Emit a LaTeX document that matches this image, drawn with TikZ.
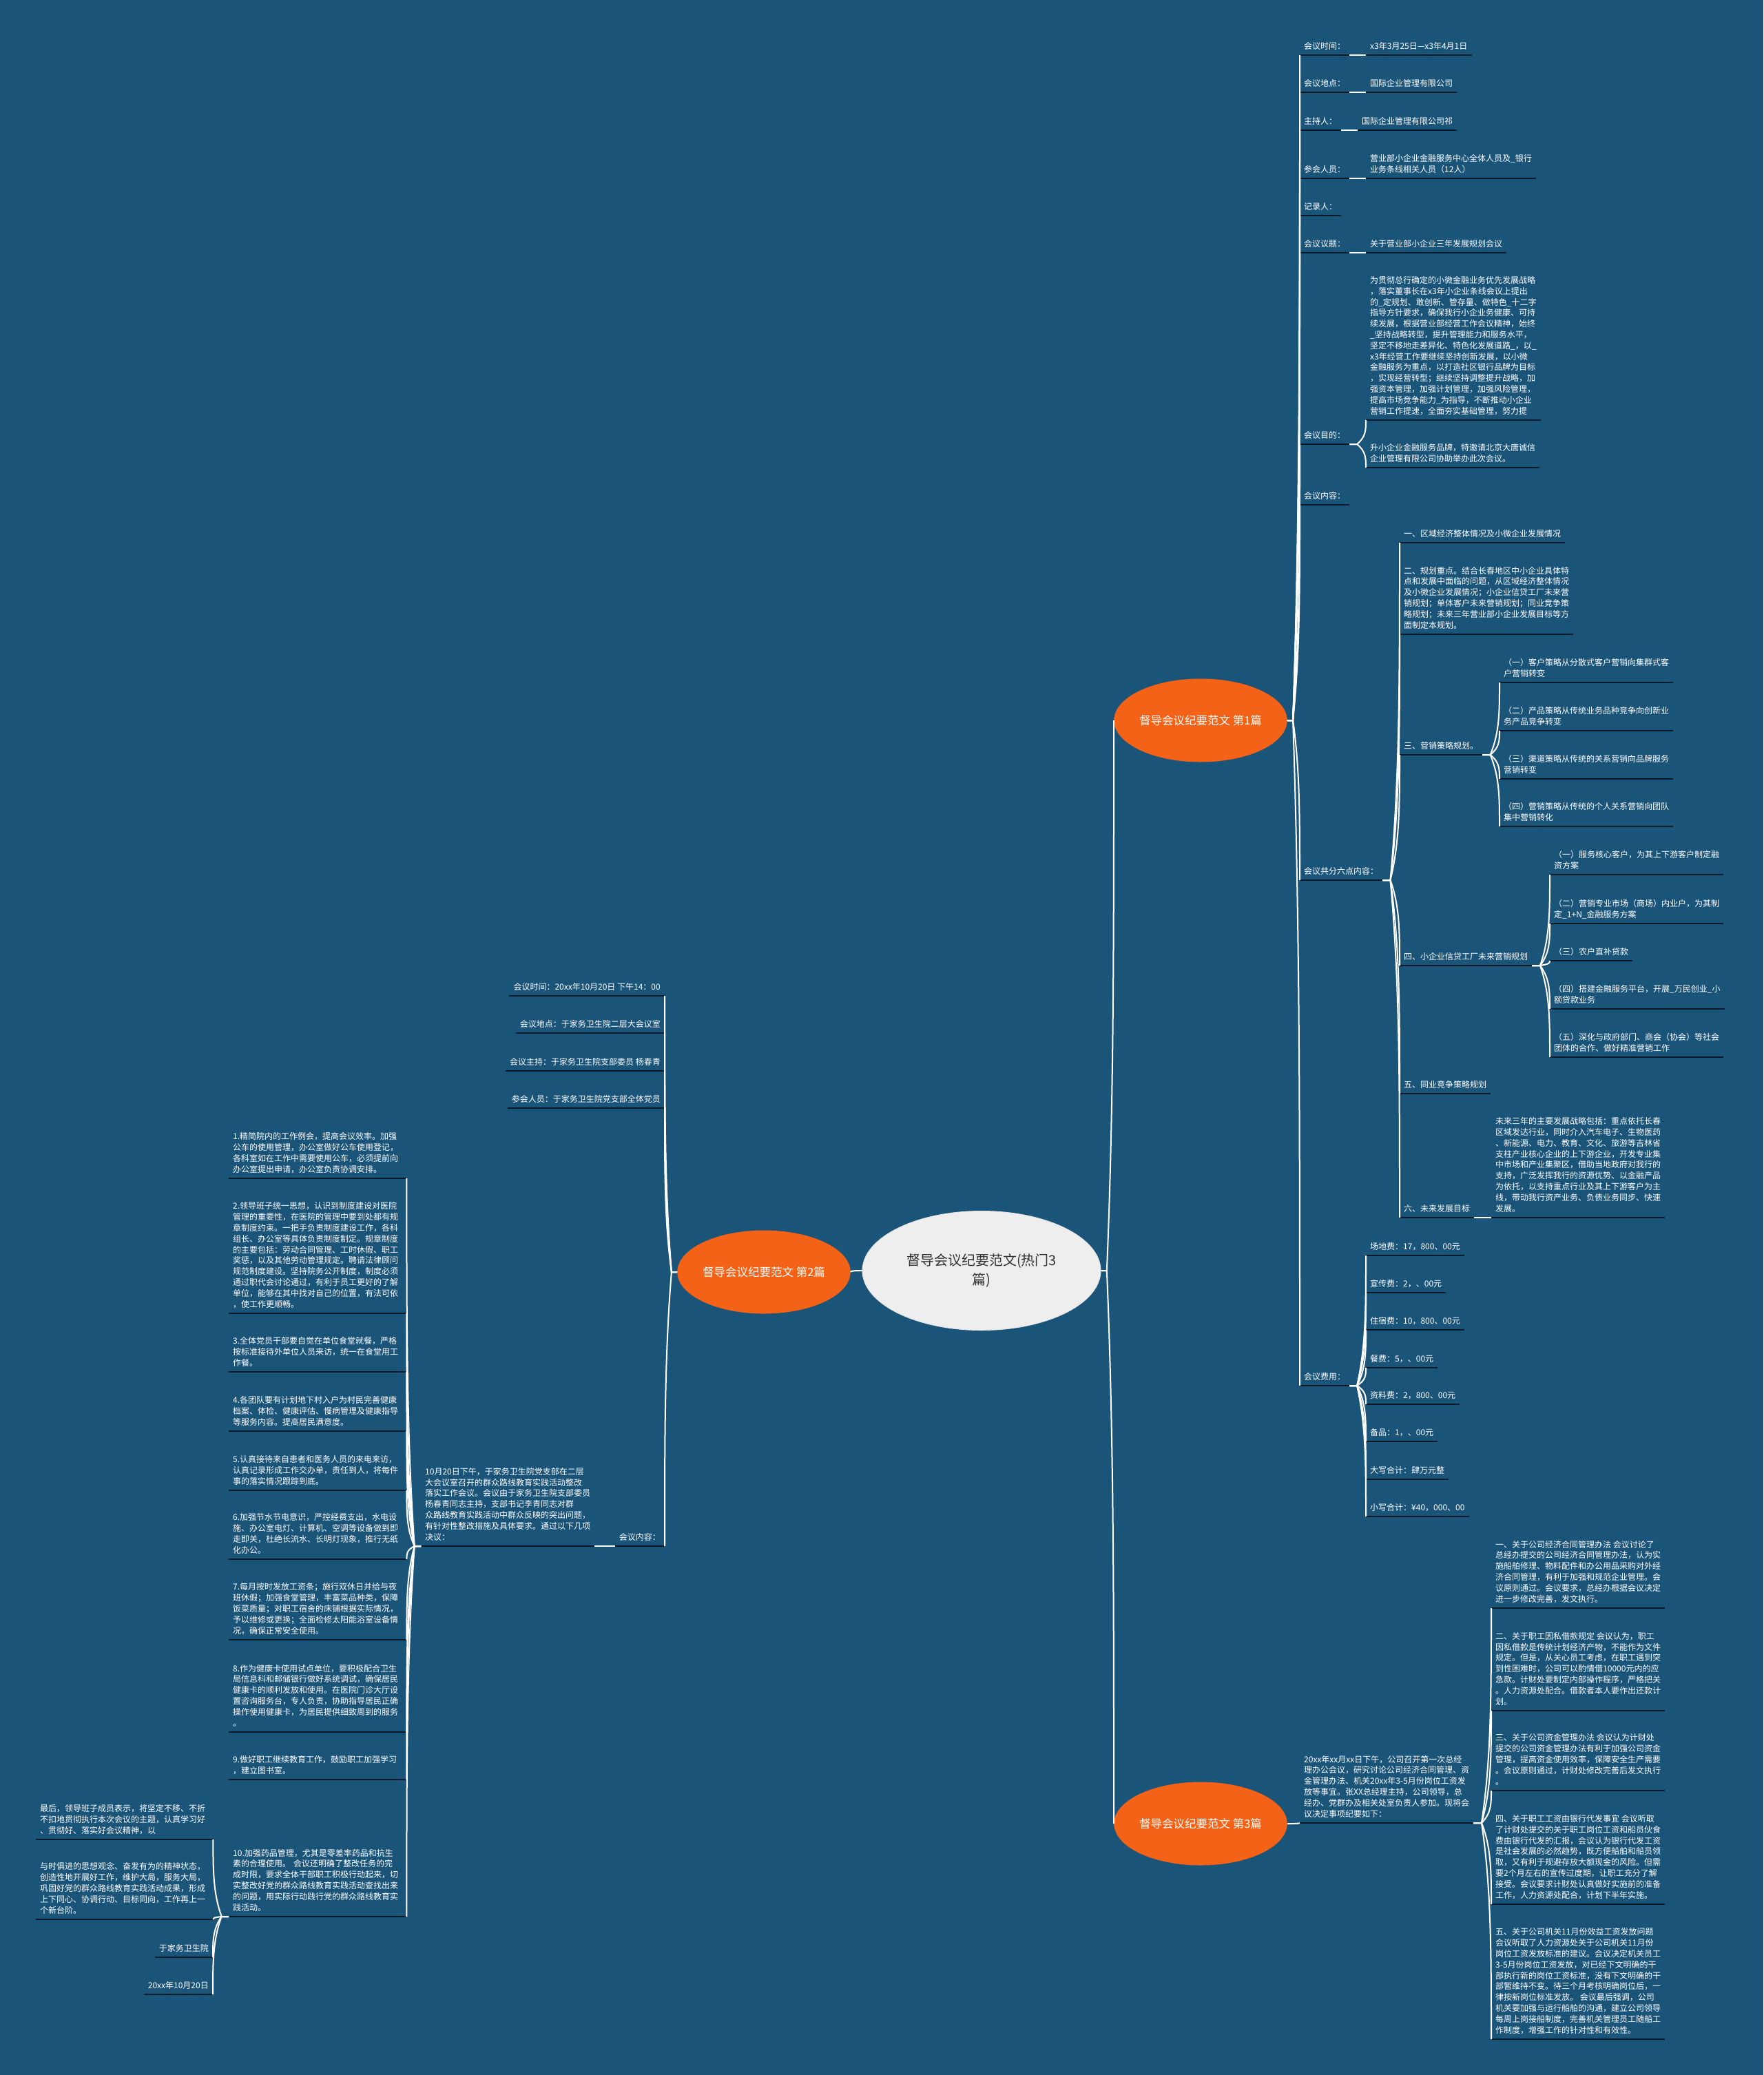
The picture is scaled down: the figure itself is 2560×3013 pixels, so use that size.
\documentclass[tikz,border=0pt]{standalone}
\usepackage{fontspec}
\newfontfamily\cjk{Noto Sans CJK SC}
\usetikzlibrary{shapes.geometric,calc}
\definecolor{bgc}{RGB}{27,84,121}
\definecolor{ulc}{RGB}{10,26,40}
\definecolor{orc}{RGB}{243,98,22}
\definecolor{rootc}{RGB}{238,238,238}
\definecolor{roottext}{RGB}{51,51,51}
\begin{document}
\begin{tikzpicture}[x=1pt,y=-1pt,
  ul/.style={draw=ulc, line width=2.6pt},
  tx/.style={font=\cjk\fontsize{12}{15.8}\selectfont, text=white, inner xsep=6pt, inner ysep=4pt, align=left,
    execute at end node=\strut,
    append after command={(\tikzlastnode.south west) edge[ul] (\tikzlastnode.south east)}},
  R/.style={tx, anchor=south west},
  L/.style={tx, anchor=south east},
  Rw/.style={R, text width=246pt},
  conn/.style={draw=white, line width=2pt, to path={let \p1=(\tikztostart), \p2=(\tikztotarget) in
     -- ({\x1+0.45*(\x2-\x1)},{\y1}) .. controls ({\x2},{\y1+0.3*(\y2-\y1)}) and ({\x2},{0.4*\y1+0.6*\y2}) .. (\tikztotarget)}},
  rootnode/.style={ellipse, fill=rootc, draw=white!80!gray, line width=1pt, minimum width=346pt, minimum height=173pt, inner sep=0pt,
     align=center, text=roottext, font=\cjk\fontsize{20}{28}\selectfont},
  lvl/.style={ellipse, fill=orc, minimum width=240pt, minimum height=121pt, inner sep=0pt, text=white,
     font=\cjk\fontsize{16.5}{20}\selectfont}
]
\useasboundingbox (0,0) rectangle (2560,3013);
\fill[bgc] (0,0) rectangle (2560,3013);

% central and level-1 nodes
\node[rootnode] (root) at (1425,1845) {督导会议纪要范文(热门3\\篇)};
\node[lvl] (n1) at (1743,1046) {督导会议纪要范文 第1篇};
\node[lvl] (n2) at (1109,1847) {督导会议纪要范文 第2篇};
\node[lvl] (n3) at (1743,2648) {督导会议纪要范文 第3篇};

% ---------- 第1篇 ----------
\node[R] (a1) at (1887,80) {会议时间：};
\node[R] (a1v) at (1983,80) {x3年3月25日—x3年4月1日};
\node[R] (a2) at (1887,134) {会议地点：};
\node[R] (a2v) at (1983,134) {国际企业管理有限公司};
\node[R] (a3) at (1887,189) {主持人：};
\node[R] (a3v) at (1971,189) {国际企业管理有限公司祁};
\node[R] (a4) at (1887,259) {参会人员：};
\node[R] (a4v) at (1983,259) {营业部小企业金融服务中心全体人员及\_银行\\业务条线相关人员（12人）};
\node[R] (a5) at (1887,313) {记录人：};
\node[R] (a6) at (1887,367) {会议议题：};
\node[R] (a6v) at (1983,367) {关于营业部小企业三年发展规划会议};
\node[R] (a7) at (1887,645) {会议目的：};
\node[R] (a7p) at (1983,610) {为贯彻总行确定的小微金融业务优先发展战略\\，落实董事长在x3年小企业条线会议上提出\\的\_定规划、敢创新、管存量、做特色\_十二字\\指导方针要求，确保我行小企业务健康、可持\\续发展，根据营业部经营工作会议精神，始终\\\_坚持战略转型，提升管理能力和服务水平，\\坚定不移地走差异化、特色化发展道路\_，以\_\\x3年经营工作要继续坚持创新发展，以小微\\金融服务为重点，以打造社区银行品牌为目标\\，实现经营转型；继续坚持调整提升战略，加\\强资本管理，加强计划管理，加强风险管理，\\提高市场竞争能力\_为指导，不断推动小企业\\营销工作提速，全面夯实基础管理，努力提};
\node[R] (a7q) at (1983,679) {升小企业金融服务品牌，特邀请北京大唐诚信\\企业管理有限公司协助举办此次会议。};
\node[R] (a8) at (1887,733) {会议内容：};
\node[R] (a9) at (1887,1278) {会议共分六点内容：};
\node[R] (b1) at (2032,788) {一、区域经济整体情况及小微企业发展情况};
\node[R] (b2) at (2032,921) {二、规划重点。结合长春地区中小企业具体特\\点和发展中面临的问题，从区域经济整体情况\\及小微企业发展情况；小企业信贷工厂未来营\\销规划；单体客户未来营销规划；同业竞争策\\略规划；未来三年营业部小企业发展目标等方\\面制定本规划。};
\node[R] (b3) at (2032,1096) {三、营销策略规划。};
\node[R] (c1) at (2177,991) {（一）客户策略从分散式客户营销向集群式客\\户营销转变};
\node[R] (c2) at (2177,1061) {（二）产品策略从传统业务品种竞争向创新业\\务产品竞争转变};
\node[R] (c3) at (2177,1131) {（三）渠道策略从传统的关系营销向品牌服务\\营销转变};
\node[R] (c4) at (2177,1200) {（四）营销策略从传统的个人关系营销向团队\\集中营销转化};
\node[R] (b4) at (2032,1402) {四、小企业信贷工厂未来营销规划};
\node[R] (d1) at (2250,1270) {（一）服务核心客户，为其上下游客户制定融\\资方案};
\node[R] (d2) at (2250,1341) {（二）营销专业市场（商场）内业户，为其制\\定\_1+N\_金融服务方案};
\node[R] (d3) at (2250,1395) {（三）农户直补贷款};
\node[R] (d4) at (2250,1465) {（四）搭建金融服务平台，开展\_万民创业\_小\\额贷款业务};
\node[R] (d5) at (2250,1535) {（五）深化与政府部门、商会（协会）等社会\\团体的合作、做好精准营销工作};
\node[R] (b5) at (2032,1588) {五、同业竞争策略规划};
\node[R] (b6) at (2032,1768) {六、未来发展目标};
\node[R] (b6v) at (2165,1768) {未来三年的主要发展战略包括：重点依托长春\\区域发达行业，同时介入汽车电子、生物医药\\、新能源、电力、教育、文化、旅游等吉林省\\支柱产业核心企业的上下游企业，开发专业集\\中市场和产业集聚区，借助当地政府对我行的\\支持，广泛发挥我行的资源优势、以金融产品\\为依托，以支持重点行业及其上下游客户为主\\线，带动我行资产业务、负债业务同步、快速\\发展。};
\node[R] (a10) at (1887,2012) {会议费用：};
\node[R] (e1) at (1983,1823) {场地费：17，800、00元};
\node[R] (e2) at (1983,1877) {宣传费：2，、00元};
\node[R] (e3) at (1983,1931) {住宿费：10，800、00元};
\node[R] (e4) at (1983,1986) {餐费：5，、00元};
\node[R] (e5) at (1983,2039) {资料费：2，800、00元};
\node[R] (e6) at (1983,2093) {备品：1，、00元};
\node[R] (e7) at (1983,2148) {大写合计：肆万元整};
\node[R] (e8) at (1983,2202) {小写合计：¥40，000、00};

% ---------- 第3篇 ----------
\node[R] (f0) at (1887,2647) {20xx年xx月xx日下午，公司召开第一次总经\\理办公会议，研究讨论公司经济合同管理、资\\金管理办法、机关20xx年3-5月份岗位工资发\\放等事宜。张XX总经理主持，公司领导，总\\经办、党群办及相关处室负责人参加。现将会\\议决定事项纪要如下：};
\node[R] (f1) at (2165,2335) {一、关于公司经济合同管理办法 会议讨论了\\总经办提交的公司经济合同管理办法，认为实\\施船舶修理、物料配件和办公用品采购对外经\\济合同管理，有利于加强和规范企业管理。会\\议原则通过。会议要求，总经办根据会议决定\\进一步修改完善，发文执行。};
\node[R] (f2) at (2165,2484) {二、关于职工因私借款规定 会议认为，职工\\因私借款是传统计划经济产物，不能作为文件\\规定。但是，从关心员工考虑，在职工遇到突\\到性困难时，公司可以酌情借10000元内的应\\急款。计财处要制定内部操作程序，严格把关\\。人力资源处配合。借款者本人要作出还款计\\划。};
\node[R] (f3) at (2165,2600) {三、关于公司资金管理办法 会议认为计财处\\提交的公司资金管理办法有利于加强公司资金\\管理，提高资金使用效率，保障安全生产需要\\。会议原则通过，计财处修改完善后发文执行\\。};
\node[R] (f4) at (2165,2765) {四、关于职工工资由银行代发事宜 会议听取\\了计财处提交的关于职工岗位工资和船员伙食\\费由银行代发的汇报，会议认为银行代发工资\\是社会发展的必然趋势，既方便船舶和船员领\\取，又有利于规避存放大额现金的风险。但需\\要2个月左右的宣传过度期，让职工充分了解\\接受。会议要求计财处认真做好实施前的准备\\工作，人力资源处配合，计划下半年实施。};
\node[R] (f5) at (2165,2961) {五、关于公司机关11月份效益工资发放问题\\会议听取了人力资源处关于公司机关11月份\\岗位工资发放标准的建议。会议决定机关员工\\3-5月份岗位工资发放，对已经下文明确的干\\部执行新的岗位工资标准，没有下文明确的干\\部暂维持不变。待三个月考核明确岗位后，一\\律按新岗位标准发放。 会议最后强调，公司\\机关要加强与运行船舶的沟通，建立公司领导\\每周上岗接船制度，完善机关管理员工随船工\\作制度，增强工作的针对性和有效性。};

% ---------- 第2篇 ----------
\node[L] (g1) at (965,1446) {会议时间：20xx年10月20日 下午14：00};
\node[L] (g2) at (965,1500) {会议地点：于家务卫生院二层大会议室};
\node[L] (g3) at (965,1555) {会议主持：于家务卫生院支部委员 杨春青};
\node[L] (g4) at (965,1609) {参会人员：于家务卫生院党支部全体党员};
\node[L] (g5) at (965,2245) {会议内容：};
\node[R] (h0) at (611,2245) {10月20日下午，于家务卫生院党支部在二层\\大会议室召开的群众路线教育实践活动整改\\落实工作会议。会议由于家务卫生院支部委员\\杨春青同志主持，支部书记李青同志对群\\众路线教育实践活动中群众反映的突出问题，\\有针对性整改措施及具体要求。通过以下几项\\决议：};
\node[Rw] (i1) at (332,1711) {1.精简院内的工作例会，提高会议效率。加强\\公车的使用管理，办公室做好公车使用登记，\\各科室如在工作中需要使用公车，必须提前向\\办公室提出申请，办公室负责协调安排。};
\node[Rw] (i2) at (332,1907) {2.领导班子统一思想，认识到制度建设对医院\\管理的重要性，在医院的管理中要到处都有规\\章制度约束。一把手负责制度建设工作，各科\\组长、办公室等具体负责制度制定。规章制度\\的主要包括：劳动合同管理、工时休假、职工\\奖惩，以及其他劳动管理规定。聘请法律顾问\\规范制度建设。坚持院务公开制度，制度必须\\通过职代会讨论通过，有利于员工更好的了解\\单位，能够在其中找对自己的位置，有法可依\\，使工作更顺畅。};
\node[Rw] (i3) at (332,1992) {3.全体党员干部要自觉在单位食堂就餐，严格\\按标准接待外单位人员来访，统一在食堂用工\\作餐。};
\node[Rw] (i4) at (332,2078) {4.各团队要有计划地下村入户为村民完善健康\\档案、体检、健康评估、慢病管理及健康指导\\等服务内容。提高居民满意度。};
\node[Rw] (i5) at (332,2164) {5.认真接待来自患者和医务人员的来电来访，\\认真记录形成工作交办单，责任到人，将每件\\事的落实情况跟踪到底。};
\node[Rw] (i6) at (332,2264) {6.加强节水节电意识，严控经费支出，水电设\\施、办公室电灯、计算机、空调等设备做到即\\走即关，杜绝长流水、长明灯现象，推行无纸\\化办公。};
\node[Rw] (i7) at (332,2381) {7.每月按时发放工资条；施行双休日并给与夜\\班休假；加强食堂管理，丰富菜品种类，保障\\饭菜质量；对职工宿舍的床铺根据实际情况，\\予以维修或更换；全面检修太阳能浴室设备情\\况，确保正常安全使用。};
\node[Rw] (i8) at (332,2515) {8.作为健康卡使用试点单位，要积极配合卫生\\局信息科和邮储银行做好系统调试，确保居民\\健康卡的顺利发放和使用。在医院门诊大厅设\\置咨询服务台，专人负责，协助指导居民正确\\操作使用健康卡，为居民提供细致周到的服务\\。};
\node[Rw] (i9) at (332,2584) {9.做好职工继续教育工作，鼓励职工加强学习\\，建立图书室。};
\node[Rw] (i10) at (332,2783) {10.加强药品管理，尤其是零差率药品和抗生\\素的合理使用。~会议还明确了整改任务的完\\成时限，要求全体干部职工积极行动起来，切\\实整改好党的群众路线教育实践活动查找出来\\的问题，用实际行动践行党的群众路线教育实\\践活动。};
\node[R, text width=245pt] (j1) at (52,2671) {最后，领导班子成员表示，将坚定不移、不折\\不扣地贯彻执行本次会议的主题，认真学习好\\、贯彻好、落实好会议精神，以};
\node[R, text width=245pt] (j2) at (52,2787) {与时俱进的思想观念、奋发有为的精神状态，\\创造性地开展好工作，维护大局，服务大局，\\巩固好党的群众路线教育实践活动成果，形成\\上下同心、协调行动、目标同向，工作再上一\\个新台阶。};
\node[L] (j3) at (309,2842) {于家务卫生院};
\node[L] (j4) at (309,2896) {20xx年10月20日};

% ---------- connectors ----------
\draw[conn] (root.east) to (n1.west);
\draw[conn] (root.east) to (n3.west);
\draw[conn] (root.west) to (n2.east);

\foreach \c in {a1,a2,a3,a4,a5,a6,a7,a8,a9,a10}
  \draw[conn] (n1.east) to (\c.south west);
\foreach \p/\c in {a1/a1v,a2/a2v,a3/a3v,a4/a4v,a6/a6v,a7/a7p,a7/a7q,
                   a9/b1,a9/b2,a9/b3,a9/b4,a9/b5,a9/b6,
                   b3/c1,b3/c2,b3/c3,b3/c4,
                   b4/d1,b4/d2,b4/d3,b4/d4,b4/d5,b6/b6v,
                   a10/e1,a10/e2,a10/e3,a10/e4,a10/e5,a10/e6,a10/e7,a10/e8,
                   f0/f1,f0/f2,f0/f3,f0/f4,f0/f5}
  \draw[conn] (\p.south east) to (\c.south west);
\draw[conn] (n3.east) to (f0.south west);

\foreach \c in {g1,g2,g3,g4,g5}
  \draw[conn] (n2.west) to (\c.south east);
\draw[conn] (g5.south west) to (h0.south east);
\foreach \c in {i1,i2,i3,i4,i5,i6,i7,i8,i9,i10}
  \draw[conn] (h0.south west) to (\c.south east);
\foreach \c in {j1,j2,j3,j4}
  \draw[conn] (i10.south west) to (\c.south east);
\end{tikzpicture}
\end{document}
